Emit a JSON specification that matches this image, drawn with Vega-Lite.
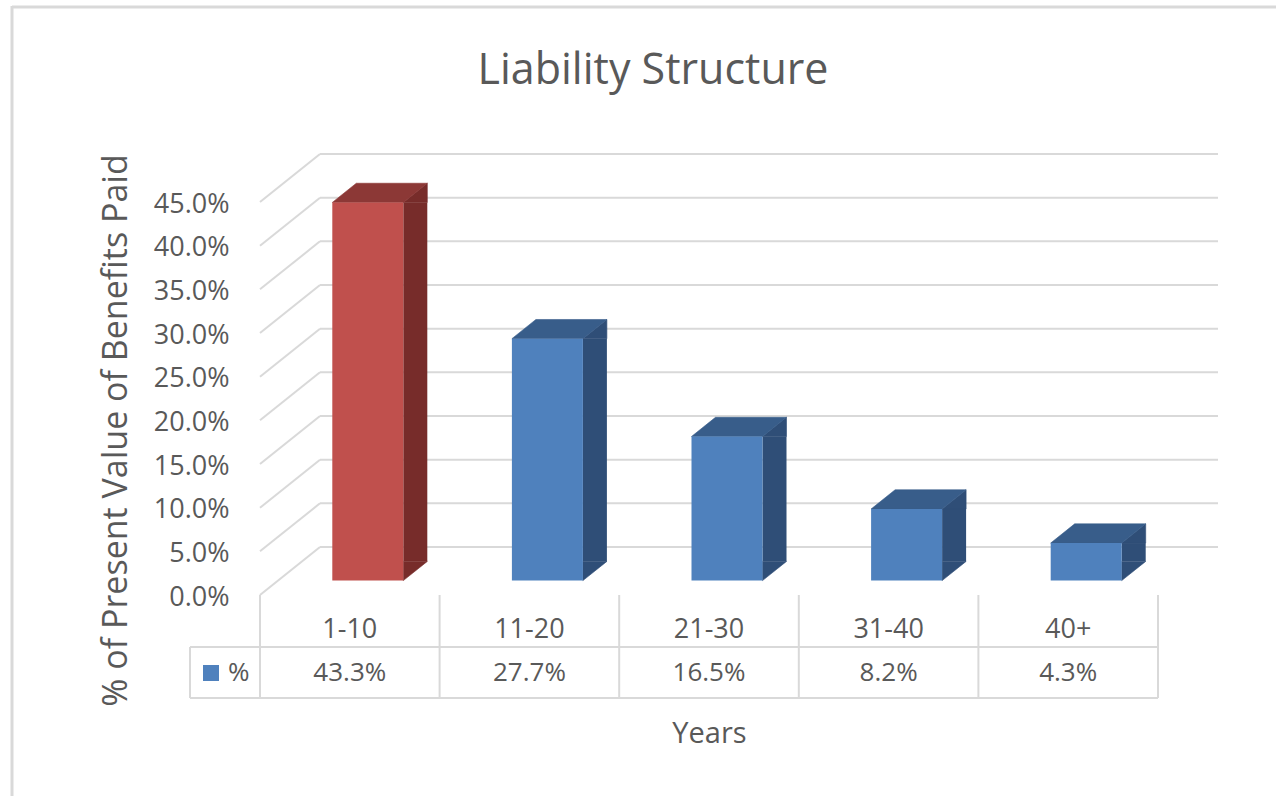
{
  "$schema": "https://vega.github.io/schema/vega-lite/v6.json",
  "width": 898,
  "height": 393,
  "autosize": {"type": "none"},
  "padding": {"left": 260, "top": 202, "right": 118, "bottom": 201},
  "background": "white",
  "title": {
    "text": "Liability Structure",
    "font": "Open Sans",
    "fontSize": 43,
    "fontWeight": "normal",
    "color": "#595959",
    "anchor": "middle",
    "baseline": "alphabetic",
    "dx": -56,
    "offset": -122
  },
  "datasets": {
    "bars": [
      {"cat": "1-10", "pct": 0.433},
      {"cat": "11-20", "pct": 0.277},
      {"cat": "21-30", "pct": 0.165},
      {"cat": "31-40", "pct": 0.082},
      {"cat": "40+", "pct": 0.043}
    ],
    "grid": [
      {"pct": 0}, {"pct": 0.05}, {"pct": 0.1}, {"pct": 0.15}, {"pct": 0.2},
      {"pct": 0.25}, {"pct": 0.3}, {"pct": 0.35}, {"pct": 0.4}, {"pct": 0.45}
    ],
    "one": [{"series": "%"}]
  },
  "layer": [
    {
      "data": {"name": "grid"},
      "mark": {"type": "rule", "color": "#D9D9D9", "strokeWidth": 2, "xOffset": 60, "x2Offset": 60, "yOffset": -48},
      "encoding": {
        "x": {"datum": "1-10", "type": "nominal", "bandPosition": 0,
              "scale": {"domain": ["1-10", "11-20", "21-30", "31-40", "40+"], "paddingInner": 0, "paddingOuter": 0},
              "title": "Years",
              "axis": {"bandPosition": 0.5, "labelAlign": "center", "labelPadding": 21, "labelAngle": 0, "title": "Years"}},
        "x2": {"datum": "40+", "bandPosition": 1},
        "y": {"field": "pct", "type": "quantitative",
              "scale": {"domain": [0, 0.45], "nice": false, "zero": true},
              "title": "% of Present Value of Benefits Paid",
              "axis": {"values": [0, 0.05, 0.1, 0.15, 0.2, 0.25, 0.3, 0.35, 0.4, 0.45], "format": ".1%"}}
      }
    },
    {
      "data": {"name": "one"},
      "mark": {"type": "rule", "color": "#D9D9D9", "strokeWidth": 3, "xOffset": -248, "x2Offset": 118, "yOffset": -195},
      "encoding": {
        "x": {"datum": "1-10", "type": "nominal", "bandPosition": 0},
        "x2": {"datum": "40+", "bandPosition": 1},
        "y": {"datum": 0.45, "type": "quantitative"}
      }
    },
    {
      "data": {"name": "one"},
      "mark": {"type": "rule", "color": "#D9D9D9", "strokeWidth": 3, "xOffset": -248, "yOffset": -196, "y2Offset": 201},
      "encoding": {
        "x": {"datum": "1-10", "type": "nominal", "bandPosition": 0},
        "y": {"datum": 0.45, "type": "quantitative"},
        "y2": {"datum": 0}
      }
    },
    {
      "data": {"name": "grid"},
      "mark": {"type": "rule", "color": "#D9D9D9", "strokeWidth": 2, "x2Offset": 60, "y2Offset": -48},
      "encoding": {
        "x": {"datum": "1-10", "type": "nominal", "bandPosition": 0},
        "x2": {"datum": "1-10", "bandPosition": 0},
        "y": {"field": "pct", "type": "quantitative"},
        "y2": {"field": "pct"}
      }
    },
    {
      "data": {"name": "bars"},
      "mark": {"type": "rule", "color": "#D9D9D9", "strokeWidth": 2, "y2Offset": 103},
      "encoding": {
        "x": {"field": "cat", "type": "nominal", "bandPosition": 0, "title": "Years"},
        "y": {"datum": 0, "type": "quantitative"},
        "y2": {"datum": 0}
      }
    },
    {
      "data": {"name": "one"},
      "mark": {"type": "rule", "color": "#D9D9D9", "strokeWidth": 2, "y2Offset": 103},
      "encoding": {
        "x": {"datum": "40+", "type": "nominal", "bandPosition": 1},
        "y": {"datum": 0, "type": "quantitative"},
        "y2": {"datum": 0}
      }
    },
    {
      "data": {"name": "one"},
      "mark": {"type": "rule", "color": "#D9D9D9", "strokeWidth": 2, "xOffset": -70, "yOffset": 52},
      "encoding": {
        "x": {"datum": "1-10", "type": "nominal", "bandPosition": 0},
        "x2": {"datum": "40+", "bandPosition": 1},
        "y": {"datum": 0, "type": "quantitative"}
      }
    },
    {
      "data": {"name": "one"},
      "mark": {"type": "rule", "color": "#D9D9D9", "strokeWidth": 2, "xOffset": -70, "yOffset": 103},
      "encoding": {
        "x": {"datum": "1-10", "type": "nominal", "bandPosition": 0},
        "x2": {"datum": "40+", "bandPosition": 1},
        "y": {"datum": 0, "type": "quantitative"}
      }
    },
    {
      "data": {"name": "one"},
      "mark": {"type": "rule", "color": "#D9D9D9", "strokeWidth": 2, "xOffset": -70, "yOffset": 52, "y2Offset": 103},
      "encoding": {
        "x": {"datum": "1-10", "type": "nominal", "bandPosition": 0},
        "y": {"datum": 0, "type": "quantitative"},
        "y2": {"datum": 0}
      }
    },
    {
      "data": {"name": "bars"},
      "mark": {"type": "bar", "width": 24, "xOffset": 65.5, "yOffset": -14.4, "y2Offset": -33.6},
      "encoding": {
        "x": {"field": "cat", "type": "nominal", "title": "Years"},
        "y": {"field": "pct", "type": "quantitative"},
        "y2": {"datum": 0},
        "color": {"condition": {"test": "datum.cat === '1-10'", "value": "#772C2A"}, "value": "#2F4E77"}
      }
    },
    {
      "data": {"name": "bars"},
      "mark": {"type": "point", "filled": true, "opacity": 1, "size": 4, "strokeWidth": 0.6,
               "shape": "M35.5,0L59.5,-19.2L59.5,0Z", "xOffset": 18, "yOffset": -14.4},
      "encoding": {
        "x": {"field": "cat", "type": "nominal", "title": "Years"},
        "y": {"field": "pct", "type": "quantitative"},
        "color": {"condition": {"test": "datum.cat === '1-10'", "value": "#772C2A"}, "value": "#2F4E77"},
        "stroke": {"condition": {"test": "datum.cat === '1-10'", "value": "#772C2A"}, "value": "#2F4E77"}
      }
    },
    {
      "data": {"name": "bars"},
      "mark": {"type": "point", "filled": true, "opacity": 1, "size": 4, "strokeWidth": 0.6,
               "shape": "M35.5,-19.2L35.5,0L59.5,-19.2Z", "xOffset": 18, "yOffset": -14.4},
      "encoding": {
        "x": {"field": "cat", "type": "nominal", "title": "Years"},
        "y": {"datum": 0, "type": "quantitative"},
        "color": {"condition": {"test": "datum.cat === '1-10'", "value": "#772C2A"}, "value": "#2F4E77"},
        "stroke": {"condition": {"test": "datum.cat === '1-10'", "value": "#772C2A"}, "value": "#2F4E77"}
      }
    },
    {
      "data": {"name": "bars"},
      "mark": {"type": "point", "filled": true, "opacity": 1, "size": 4, "strokeWidth": 0.6,
               "shape": "M-35.5,0L35.5,0L59.5,-19.2L-11.5,-19.2Z", "xOffset": 18, "yOffset": -14.4},
      "encoding": {
        "x": {"field": "cat", "type": "nominal", "title": "Years"},
        "y": {"field": "pct", "type": "quantitative"},
        "color": {"condition": {"test": "datum.cat === '1-10'", "value": "#8C3836"}, "value": "#385D8A"},
        "stroke": {"condition": {"test": "datum.cat === '1-10'", "value": "#8C3836"}, "value": "#385D8A"}
      }
    },
    {
      "data": {"name": "bars"},
      "mark": {"type": "bar", "width": 71, "xOffset": 18, "yOffset": -14.4, "y2Offset": -14.4},
      "encoding": {
        "x": {"field": "cat", "type": "nominal", "title": "Years"},
        "y": {"field": "pct", "type": "quantitative"},
        "y2": {"datum": 0},
        "color": {"condition": {"test": "datum.cat === '1-10'", "value": "#C0504D"}, "value": "#4F81BD"}
      }
    },
    {
      "data": {"name": "bars"},
      "mark": {"type": "text", "font": "Open Sans", "fontSize": 26, "color": "#595959",
               "align": "center", "baseline": "middle", "yOffset": 78},
      "encoding": {
        "x": {"field": "cat", "type": "nominal", "title": "Years"},
        "y": {"datum": 0, "type": "quantitative"},
        "text": {"field": "pct", "type": "quantitative", "format": ".1%"}
      }
    },
    {
      "data": {"name": "one"},
      "mark": {"type": "square", "filled": true, "opacity": 1, "size": 256, "color": "#4F81BD", "xOffset": -49, "yOffset": 78},
      "encoding": {
        "x": {"datum": "1-10", "type": "nominal", "bandPosition": 0},
        "y": {"datum": 0, "type": "quantitative"}
      }
    },
    {
      "data": {"name": "one"},
      "mark": {"type": "text", "font": "Open Sans", "fontSize": 26, "color": "#595959",
               "align": "left", "baseline": "middle", "xOffset": -32, "yOffset": 78},
      "encoding": {
        "x": {"datum": "1-10", "type": "nominal", "bandPosition": 0},
        "y": {"datum": 0, "type": "quantitative"},
        "text": {"field": "series"}
      }
    }
  ],
  "config": {
    "view": {"stroke": null},
    "font": "Open Sans",
    "axis": {
      "domain": false, "ticks": false, "grid": false,
      "labelColor": "#595959", "titleColor": "#595959",
      "labelFont": "Open Sans", "titleFont": "Open Sans",
      "titleFontWeight": "normal", "labelFontSize": 27
    },
    "axisY": {"labelPadding": 31, "labelBaseline": "middle", "labelOffset": 2,
              "titleFontSize": 34, "titleX": -144, "titleY": 228, "titleBaseline": "middle", "titleAlign": "center", "titleAngle": 270},
    "axisX": {"titleFontSize": 29, "titleY": 147, "titleBaseline": "alphabetic", "titleAlign": "center"}
  }
}
